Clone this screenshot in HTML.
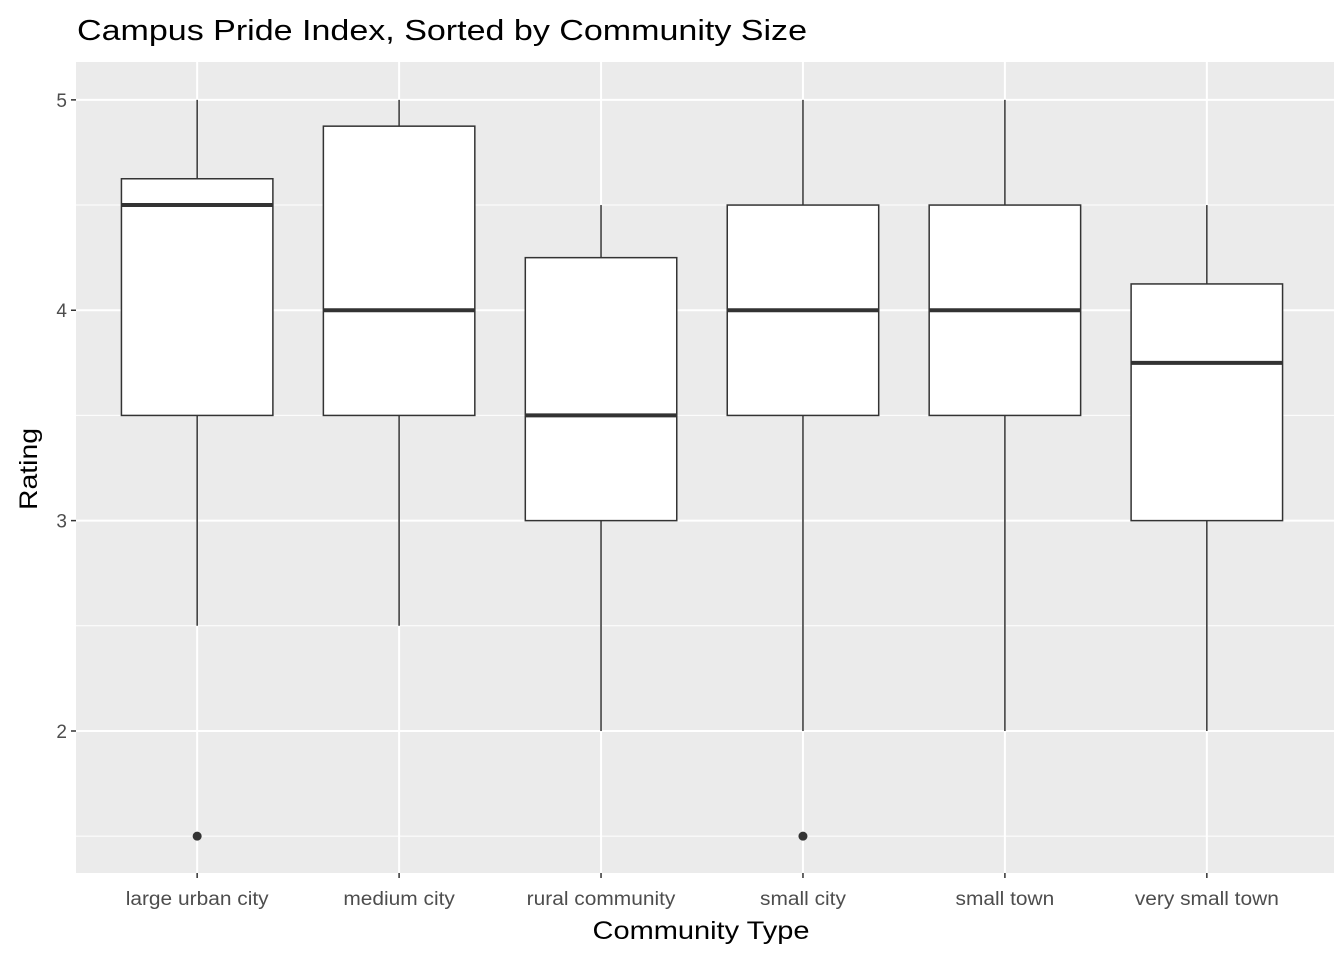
<!DOCTYPE html>
<html><head><meta charset="utf-8"><style>
body{margin:0;background:#fff;}
svg{display:block;font-family:"Liberation Sans",Arial,sans-serif;}
</style></head><body>
<svg id="chart" width="1344" height="960">
<text x="77" y="40" font-size="29" textLength="730" lengthAdjust="spacingAndGlyphs" fill="#000">Campus Pride Index, Sorted by Community Size</text>
<rect x="76" y="62" width="1258" height="811" fill="#ebebeb"/>
<g id="grid"></g>
<g id="boxes"></g>
<g id="axes"></g>
<text x="701" y="939" font-size="25" text-anchor="middle" textLength="217" lengthAdjust="spacingAndGlyphs" fill="#000">Community Type</text>
<text transform="translate(37,469) rotate(-90)" font-size="25" text-anchor="middle" textLength="82" lengthAdjust="spacingAndGlyphs" fill="#000">Rating</text>
</svg>
<script>
const categories=["large urban city","medium city","rural community","small city","small town","very small town"];
const whiskerLow=[2.5,2.5,2,2,2,2];
const q1=[3.5,3.5,3,3.5,3.5,3];
const median=[4.5,4,3.5,4,4,3.75];
const q3=[4.625,4.875,4.25,4.5,4.5,4.125];
const whiskerHigh=[5,5,4.5,5,5,4.5];
const outliers=[[1.5],[],[],[1.5],[],[]];
const yTicks=[2,3,4,5];
const yMinor=[1.5,2.5,3.5,4.5];

const NS="http://www.w3.org/2000/svg";
const px0=76,px1=1334,py0=62,py1=873;
const sx0=76,sx1=1328;
const yMin=1.325,yMax=5.18;
function y(v){return py1-(v-yMin)/(yMax-yMin)*(py1-py0);}
const step=(sx1-sx0)/(categories.length+0.2);
function x(i){return sx0+step*(i+0.6);}
const bw=step*0.75;
function mk(tag,attrs,parent){const e=document.createElementNS(NS,tag);for(const k in attrs)e.setAttribute(k,attrs[k]);parent.appendChild(e);return e;}
const grid=document.getElementById('grid'),boxes=document.getElementById('boxes'),axes=document.getElementById('axes');
yMinor.forEach(v=>{const l=mk('line',{x1:px0,x2:px1,y1:y(v),y2:y(v),stroke:'#fff','stroke-width':1},grid);

});
yTicks.forEach(v=>{const l=mk('line',{x1:px0,x2:px1,y1:y(v),y2:y(v),stroke:'#fff','stroke-width':2},grid);


const tk=mk('line',{x1:px0-5,x2:px0,y1:y(v),y2:y(v),stroke:'#333','stroke-width':1.5},axes);


const t=mk('text',{x:px0-9,y:y(v)+7,'font-size':19,'text-anchor':'end',fill:'#4d4d4d'},axes);t.textContent=v;

});
categories.forEach((c,i)=>{const cx=x(i);
const g=mk('line',{x1:cx,x2:cx,y1:py0,y2:py1,stroke:'#fff','stroke-width':2},grid);


const grp=mk('g',{},boxes);


mk('line',{x1:cx,x2:cx,y1:y(whiskerHigh[i]),y2:y(q3[i]),stroke:'#333','stroke-width':1.5},grp);
mk('line',{x1:cx,x2:cx,y1:y(q1[i]),y2:y(whiskerLow[i]),stroke:'#333','stroke-width':1.5},grp);
mk('rect',{x:cx-bw/2,y:y(q3[i]),width:bw,height:y(q1[i])-y(q3[i]),fill:'#fff',stroke:'#333','stroke-width':1.5},grp);
mk('line',{x1:cx-bw/2,x2:cx+bw/2,y1:y(median[i]),y2:y(median[i]),stroke:'#333','stroke-width':4},grp);
outliers[i].forEach(o=>{const d=mk('circle',{cx:cx,cy:y(o),r:4.5,fill:'#333'},grp);

});
const tk=mk('line',{x1:cx,x2:cx,y1:py1,y2:py1+5,stroke:'#333','stroke-width':1.5},axes);


const t=mk('text',{x:cx,y:905,'font-size':19,'text-anchor':'middle',fill:'#4d4d4d'},axes);t.textContent=c;


const w=t.getComputedTextLength();
t.setAttribute('textLength',(w*1.1).toFixed(1));
t.setAttribute('lengthAdjust','spacingAndGlyphs');});
</script>
</body></html>
